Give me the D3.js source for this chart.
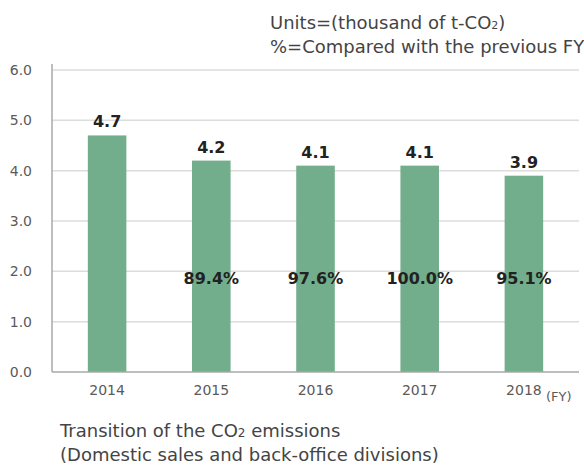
<!DOCTYPE html>
<html>
<head>
<meta charset="utf-8">
<script src="https://cdn.jsdelivr.net/npm/d3@7"></script>
<style>
  body { margin: 0; background: #fff; }
  svg { font-family: "DejaVu Sans", sans-serif; }
</style>
</head>
<body>
<div id="chart"></div>
<script>
// data
const years = ["2014", "2015", "2016", "2017", "2018"]
const emissions = [4.7, 4.2, 4.1, 4.1, 3.9]
const ratios = [null, "89.4%", "97.6%", "100.0%", "95.1%"]
const yTicks = [0, 1, 2, 3, 4, 5, 6]

const width = 584
const height = 465

const svg = d3.select("#chart")
  .append("svg")
    .attr("width", width)
    .attr("height", height)

const x = d3.scaleBand()
  .domain(years)
  .range([55, 576])
  .paddingInner(0.63)
  .paddingOuter(0.315)

const y = d3.scaleLinear()
  .domain([0, 6])
  .range([372, 70])

// gridlines
svg.append("g")
  .selectAll("line")
  .data(yTicks.slice(1))
  .join("line")
    .attr("x1", 52)
    .attr("x2", 579)
    .attr("y1", d => y(d))
    .attr("y2", d => y(d))
    .attr("stroke", "#dcdcdc")
    .attr("stroke-width", 1.5)

// y tick labels
svg.append("g")
  .selectAll("text")
  .data(yTicks)
  .join("text")
    .attr("x", 32)
    .attr("y", d => y(d) + 5)
    .attr("text-anchor", "end")
    .attr("font-size", 14)
    .attr("fill", "#5a5a5a")
    .text(d => d.toFixed(1))

// bars
svg.append("g")
  .selectAll("rect")
  .data(emissions)
  .join("rect")
    .attr("x", (d, i) => x(years[i]))
    .attr("y", d => y(d))
    .attr("width", x.bandwidth())
    .attr("height", d => y(0) - y(d))
    .attr("fill", "#72ad8c")

// axis lines
svg.append("line")
  .attr("x1", 52).attr("x2", 52)
  .attr("y1", 64).attr("y2", 372)
  .attr("stroke", "#a8a8a8").attr("stroke-width", 1.5)
svg.append("line")
  .attr("x1", 52).attr("x2", 579)
  .attr("y1", 372).attr("y2", 372)
  .attr("stroke", "#a8a8a8").attr("stroke-width", 1.5)

// value labels
svg.append("g")
  .selectAll("text")
  .data(emissions)
  .join("text")
    .attr("x", (d, i) => x(years[i]) + x.bandwidth() / 2)
    .attr("y", d => y(d) - 8)
    .attr("text-anchor", "middle")
    .attr("font-size", 16)
    .attr("font-weight", "bold")
    .attr("fill", "#222")
    .text(d => d.toFixed(1))

// ratio labels (no ratio for the first year)
svg.append("g")
  .selectAll("text")
  .data(ratios.filter(d => d))
  .join("text")
    .attr("x", (d, i) => x(years[i + 1]) + x.bandwidth() / 2)
    .attr("y", 284)
    .attr("text-anchor", "middle")
    .attr("font-size", 16)
    .attr("font-weight", "bold")
    .attr("fill", "#222")
    .text(d => d)

// x tick labels
svg.append("g")
  .selectAll("text")
  .data(years)
  .join("text")
    .attr("x", d => x(d) + x.bandwidth() / 2)
    .attr("y", 395)
    .attr("text-anchor", "middle")
    .attr("font-size", 14)
    .attr("fill", "#5a5a5a")
    .text(d => d)

svg.append("text")
  .attr("x", 546)
  .attr("y", 401)
  .attr("font-size", 13)
  .attr("fill", "#5a5a5a")
  .text("(FY)")

// header
const head = svg.append("g")
  .attr("font-size", 18)
  .attr("fill", "#444")
const u = head.append("text").attr("x", 270).attr("y", 29)
u.append("tspan").text("Units=(thousand of t-CO")
u.append("tspan").attr("font-size", 11).text("2")
u.append("tspan").text(")")
head.append("text").attr("x", 270).attr("y", 53)
  .text("%=Compared with the previous FY")

// caption
const cap = svg.append("g")
  .attr("font-size", 18)
  .attr("fill", "#444")
const t = cap.append("text").attr("x", 60).attr("y", 437)
t.append("tspan").text("Transition of the CO")
t.append("tspan").attr("font-size", 12).text("2")
t.append("tspan").text(" emissions")
cap.append("text").attr("x", 60).attr("y", 461)
  .text("(Domestic sales and back-office divisions)")
</script>
</body>
</html>
